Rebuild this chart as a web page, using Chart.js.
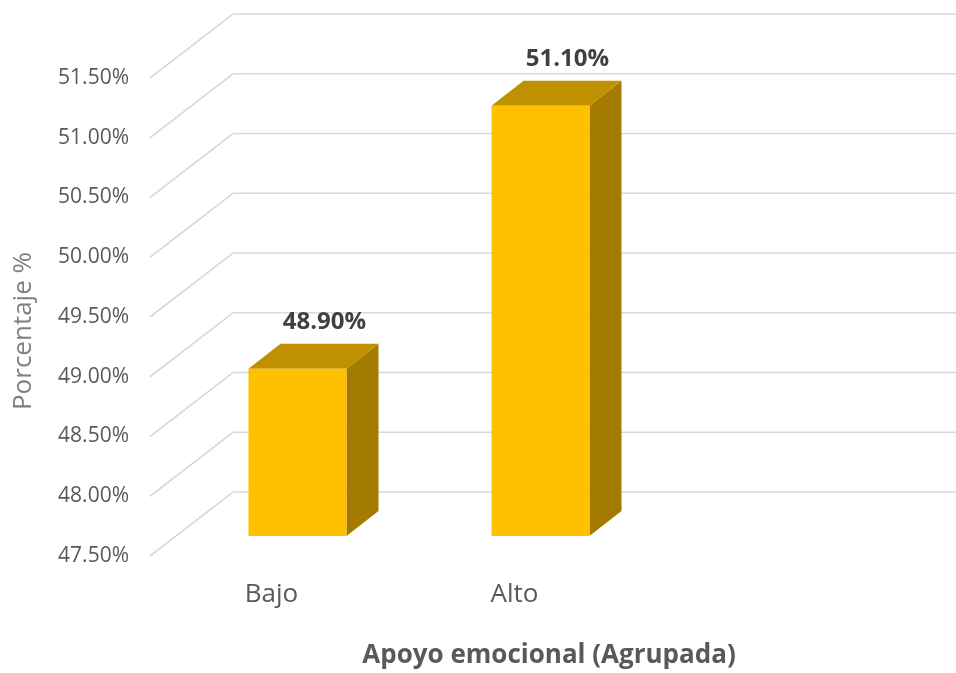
<!DOCTYPE html>
<html>
<head>
<meta charset="utf-8">
<script src="https://cdn.jsdelivr.net/npm/chart.js@4/dist/chart.umd.min.js"></script>
<style>
  html, body { margin: 0; padding: 0; background: #ffffff; }
  #wrap { width: 956px; height: 673px; position: relative; }
</style>
</head>
<body>
<div id="wrap"><canvas id="c" width="956" height="673"></canvas></div>
<script>
// ---- data ----
const categories = ['Bajo', 'Alto', ''];
const values = [48.9, 51.1, null];
const valueLabels = ['48.90%', '51.10%', ''];
const yTicks = [47.5, 48.0, 48.5, 49.0, 49.5, 50.0, 50.5, 51.0, 51.5];
const yTickLabels = ['47.50%', '48.00%', '48.50%', '49.00%', '49.50%', '50.00%', '50.50%', '51.00%', '51.50%'];
const xTitle = 'Apoyo emocional (Agrupada)';
const yTitle = 'Porcentaje %';

// ---- 3D look (styling) ----
const WALL_DX = 83, WALL_DY = -64;      // depth of the floor / back wall
const OFF_DX = 26, OFF_DY = -20;        // bar position inside the depth
const BAR_DX = 32, BAR_DY = -25;        // bar depth
const FRONT = '#FFC000', TOP = '#BF9000', SIDE = '#A37B00';
const GRID = '#d9d9d9';
const FONT = '"Open Sans", "Noto Sans", sans-serif';

const threeD = {
  id: 'threeD',
  beforeDatasetsDraw(chart) {
    const ctx = chart.ctx, ys = chart.scales.y, area = chart.chartArea;
    ctx.save();
    ctx.strokeStyle = GRID;
    ctx.lineWidth = 1.6;
    ys.ticks.forEach(t => {
      const py = ys.getPixelForValue(t.value);
      ctx.beginPath();
      ctx.moveTo(area.left, py);
      ctx.lineTo(area.left + WALL_DX, py + WALL_DY);
      ctx.lineTo(chart.width, py + WALL_DY);
      ctx.stroke();
    });
    ctx.restore();

    const meta = chart.getDatasetMeta(0);
    meta.data.forEach((bar, i) => {
      if (values[i] == null) return;
      const p = bar.getProps(['x', 'y', 'base', 'width'], true);
      const l = p.x - p.width / 2 + OFF_DX, r = p.x + p.width / 2 + OFF_DX;
      const t = p.y + OFF_DY, b = p.base + OFF_DY;
      ctx.save();
      ctx.fillStyle = SIDE;
      ctx.beginPath();
      ctx.moveTo(r, t);
      ctx.lineTo(r + BAR_DX, t + BAR_DY);
      ctx.lineTo(r + BAR_DX, b + BAR_DY);
      ctx.lineTo(r, b);
      ctx.closePath();
      ctx.fill();
      ctx.fillStyle = TOP;
      ctx.beginPath();
      ctx.moveTo(l, t);
      ctx.lineTo(l + BAR_DX, t + BAR_DY);
      ctx.lineTo(r + BAR_DX, t + BAR_DY);
      ctx.lineTo(r, t);
      ctx.closePath();
      ctx.fill();
      ctx.restore();
    });
    ctx.save();
    ctx.translate(OFF_DX, OFF_DY);
  },
  afterDatasetsDraw(chart) {
    const ctx = chart.ctx;
    ctx.restore();
    const meta = chart.getDatasetMeta(0);
    ctx.save();
    ctx.font = 'bold 24px ' + FONT;
    ctx.fillStyle = '#404040';
    ctx.textAlign = 'center';
    ctx.textBaseline = 'alphabetic';
    meta.data.forEach((bar, i) => {
      if (values[i] == null) return;
      const p = bar.getProps(['x', 'y'], true);
      ctx.fillText(valueLabels[i], p.x + OFF_DX + 27, p.y + OFF_DY - 40);
    });
    ctx.restore();
  },
  afterDraw(chart) {
    const ctx = chart.ctx;
    ctx.save();
    ctx.font = 'bold 26px ' + FONT;
    ctx.fillStyle = '#595959';
    ctx.textAlign = 'center';
    ctx.textBaseline = 'alphabetic';
    ctx.fillText(xTitle, 549, 663);
    ctx.translate(31, 331);
    ctx.rotate(-Math.PI / 2);
    ctx.font = '26px ' + FONT;
    ctx.fillStyle = '#7f7f7f';
    ctx.fillText(yTitle, 0, 0);
    ctx.restore();
  }
};

new Chart(document.getElementById('c'), {
  type: 'bar',
  data: {
    labels: categories,
    datasets: [{
      data: values,
      base: yTicks[0],
      backgroundColor: FRONT,
      borderWidth: 0,
      barPercentage: 98 / 243,
      categoryPercentage: 1,
      clip: false
    }]
  },
  options: {
    responsive: false,
    animation: false,
    devicePixelRatio: 1,
    layout: { padding: { left: 0, right: 77, top: 78, bottom: 0 } },
    plugins: { legend: { display: false }, tooltip: { enabled: false }, title: { display: false } },
    scales: {
      x: {
        grid: { display: false, drawTicks: false },
        border: { display: false },
        ticks: { color: '#595959', font: { family: FONT, size: 26 }, padding: 23, maxRotation: 0, autoSkip: false },
        afterFit(s) { s.height = 117; }
      },
      y: {
        min: 47.5,
        max: 51.5,
        grid: { display: false, drawTicks: false },
        border: { display: false },
        afterBuildTicks(s) { s.ticks = yTicks.map(v => ({ value: v })); },
        ticks: {
          color: '#595959',
          font: { family: FONT, size: 21 },
          padding: 21,
          callback: (v) => yTickLabels[yTicks.indexOf(v)] ?? ''
        },
        afterFit(s) { s.width = 150; }
      }
    }
  },
  plugins: [threeD]
});
</script>
</body>
</html>
